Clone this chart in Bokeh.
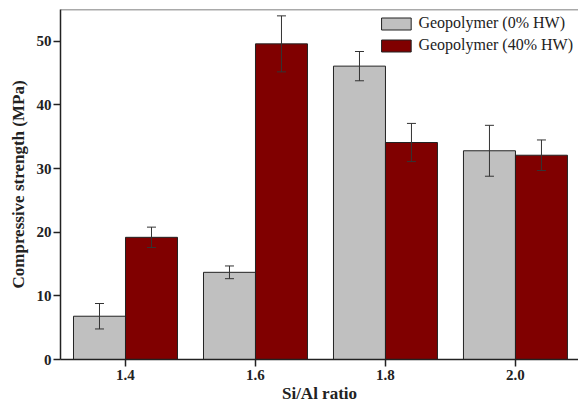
from bokeh.plotting import figure
from bokeh.models import (ColumnDataSource, Whisker, Legend, LegendItem, FixedTicker,
                          Range1d, Span)
from bokeh.embed import file_html
from bokeh.resources import INLINE

# ---- data ----
ratios = [1.4, 1.6, 1.8, 2.0]
tick_labels = ["1.4", "1.6", "1.8", "2.0"]
hw0 = [6.8, 13.7, 46.1, 32.8]
hw0_err = [2.0, 1.0, 2.3, 4.0]
hw40 = [19.2, 49.6, 34.1, 32.1]
hw40_err = [1.6, 4.4, 3.0, 2.4]
series_names = ["Geopolymer (0% HW)", "Geopolymer (40% HW)"]

bar_w = 0.08
FONT = "Liberation Serif"

def make_src(vals, errs, off):
    return ColumnDataSource(dict(
        x=[r + off for r in ratios],
        top=vals,
        upper=[v + e for v, e in zip(vals, errs)],
        lower=[v - e for v, e in zip(vals, errs)],
    ))

src0 = make_src(hw0, hw0_err, -bar_w / 2)
src40 = make_src(hw40, hw40_err, bar_w / 2)

p = figure(width=578, height=405, output_backend="svg", toolbar_location=None,
           x_range=Range1d(1.3, 2.097), y_range=Range1d(0, 55),
           min_border_left=60, min_border_right=0, min_border_top=9, min_border_bottom=45)
p.outline_line_color = None
p.grid.visible = False
p.background_fill_color = "white"
p.border_fill_color = "white"

r0 = p.vbar(x="x", top="top", width=bar_w, source=src0, fill_color="#c0c0c0",
            line_color="#222222", line_width=1)
r40 = p.vbar(x="x", top="top", width=bar_w, source=src40, fill_color="#800000",
             line_color="#222222", line_width=1)

for s in (src0, src40):
    w = Whisker(base="x", upper="upper", lower="lower", source=s,
                line_color="#333333", line_width=1, level="overlay")
    w.upper_head.size = 9
    w.lower_head.size = 9
    w.upper_head.line_color = "#333333"
    w.lower_head.line_color = "#333333"
    p.add_layout(w)

p.add_layout(Span(location=55, dimension="width", line_color="#555555", line_width=1.5))

# axes
p.xaxis.ticker = FixedTicker(ticks=ratios)
p.xaxis.major_label_overrides = {r: t for r, t in zip(ratios, tick_labels)}
p.yaxis.ticker = FixedTicker(ticks=[0, 10, 20, 30, 40, 50])
for ax in (p.xaxis[0], p.yaxis[0]):
    ax.axis_line_color = "#222222"
    ax.axis_line_width = 1.5
    ax.major_tick_line_color = "#222222"
    ax.major_tick_line_width = 1.5
    ax.major_tick_in = 0
    ax.major_tick_out = 7
    ax.minor_tick_out = 0
    ax.minor_tick_in = 0
    ax.major_label_text_font = FONT
    ax.major_label_text_font_style = "bold"
    ax.major_label_text_font_size = "15px"
    ax.major_label_text_color = "#222222"
    ax.axis_label_text_font = FONT
    ax.axis_label_text_font_style = "bold"
    ax.axis_label_text_font_size = "17px"
    ax.axis_label_text_color = "#222222"
p.xaxis.axis_label = "Si/Al ratio"
p.yaxis.axis_label = "Compressive strength (MPa)"
p.xaxis.major_label_standoff = 3
p.xaxis.axis_label_standoff = 1
p.yaxis.major_label_standoff = 2
p.yaxis.axis_label_standoff = 6

legend = Legend(items=[LegendItem(label=series_names[0], renderers=[r0]),
                       LegendItem(label=series_names[1], renderers=[r40])],
                location="top_right")
legend.label_text_font = FONT
legend.label_text_font_size = "16px"
legend.label_text_color = "#222222"
legend.glyph_width = 37
legend.glyph_height = 15
legend.label_height = 15
legend.spacing = 4
legend.padding = 2
legend.margin = 3
legend.label_standoff = 4
legend.border_line_alpha = 0
legend.background_fill_alpha = 0
p.add_layout(legend)

open("out.html", "w").write(file_html(p, INLINE))
